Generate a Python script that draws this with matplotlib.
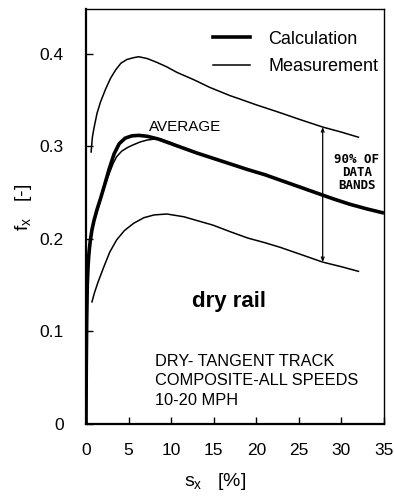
import matplotlib
matplotlib.use("Agg")
import matplotlib.pyplot as plt
from matplotlib.lines import Line2D

plt.rcParams['font.family'] = ['Liberation Sans', 'DejaVu Sans']
plt.rcParams['mathtext.fontset'] = 'custom'
plt.rcParams['mathtext.rm'] = 'Liberation Sans'
plt.rcParams['mathtext.it'] = 'Liberation Sans'

# Calculated friction coefficient curve
calc_s = [0, 0.03, 0.08, 0.15, 0.25, 0.35, 0.5, 0.7, 0.94, 1.3, 1.75, 2.2, 2.7,
          3.3, 3.9, 4.6, 5.4, 6.2, 7.2, 8.5, 10, 11.5, 13, 15, 17, 19, 21, 23,
          25, 27, 29, 31, 33, 35]
calc_f = [0, 0.06, 0.11, 0.15, 0.172, 0.185, 0.198, 0.21, 0.22, 0.232, 0.245,
          0.259, 0.275, 0.292, 0.303, 0.309, 0.3115, 0.312, 0.311, 0.308, 0.303,
          0.298, 0.293, 0.287, 0.281, 0.275, 0.2695, 0.263, 0.2565, 0.25,
          0.2435, 0.2375, 0.2325, 0.228]

# Measured average curve
avg_s = [0.15, 0.25, 0.35, 0.5, 0.7, 0.94, 1.3, 1.75, 2.2, 2.7, 3.2, 3.6, 4.2,
         4.9, 5.6, 6.4, 7.2, 8.0, 8.8, 10, 11.5, 13, 15, 17, 19, 21, 23, 25, 27,
         29, 31, 32]
avg_f = [0.14, 0.165, 0.18, 0.195, 0.207, 0.218, 0.23, 0.243, 0.257, 0.27,
         0.282, 0.289, 0.295, 0.299, 0.302, 0.305, 0.307, 0.308, 0.308, 0.304,
         0.298, 0.293, 0.287, 0.281, 0.275, 0.2695, 0.263, 0.2565, 0.25,
         0.2435, 0.2375, 0.235]

# Upper bound of the 90 % data band
upper_s = [0.6, 0.75, 0.94, 1.3, 1.7, 2.3, 2.9, 3.5, 4.1, 4.8, 5.6, 6.2, 7.2,
           8.3, 9.5, 10.7, 12.7, 14.5, 16.9, 18, 20, 22.8, 25, 27.8, 30, 32]
upper_f = [0.294, 0.31, 0.32, 0.336, 0.348, 0.362, 0.374, 0.383, 0.390, 0.394,
           0.396, 0.397, 0.395, 0.391, 0.386, 0.380, 0.372, 0.364, 0.355,
           0.3515, 0.345, 0.3365, 0.3295, 0.321, 0.3155, 0.310]

# Lower bound of the 90 % data band
lower_s = [0.7, 1.0, 1.4, 2.1, 2.8, 3.6, 4.5, 5.6, 6.8, 8.0, 9.5, 11.5, 13, 14.9,
           16.9, 19, 21, 22.8, 25, 27.8, 30, 32]
lower_f = [0.132, 0.142, 0.153, 0.17, 0.186, 0.199, 0.209, 0.217, 0.223, 0.226,
           0.227, 0.224, 0.220, 0.215, 0.208, 0.201, 0.196, 0.191, 0.184, 0.175,
           0.170, 0.165]

band_s = 27.8
band_top = 0.321
band_bottom = 0.175

x_ticks = [0, 5, 10, 15, 20, 25, 30, 35]
y_ticks = [0, 0.1, 0.2, 0.3, 0.4]
y_tick_labels = ['0', '0.1', '0.2', '0.3', '0.4']

fig = plt.figure(figsize=(3.94, 4.96), dpi=100)
ax = fig.add_axes([86 / 394, 72 / 496, 298 / 394, 415 / 496])

thin = 1.1
thick = 2.6
ax.plot(upper_s, upper_f, color='black', lw=thin)
ax.plot(lower_s, lower_f, color='black', lw=thin)
ax.plot(avg_s, avg_f, color='black', lw=thin)
ax.plot(calc_s, calc_f, color='black', lw=thick, solid_capstyle='butt')

ax.annotate('', xy=(band_s, band_top), xytext=(band_s, band_bottom),
            arrowprops=dict(arrowstyle='<->,head_length=0.25,head_width=0.1',
                            color='black', lw=0.9, shrinkA=0, shrinkB=0))
ax.text(31.8, 0.272, '90% OF\nDATA\nBANDS', ha='center', va='center',
        fontsize=9, fontweight='bold', family='DejaVu Sans Mono',
        linespacing=1.0)

ax.text(7.4, 0.321, 'AVERAGE', ha='left', va='center', fontsize=11)
ax.text(12.4, 0.132, 'dry rail', ha='left', va='center', fontsize=16,
        fontweight='bold')
ax.text(8.1, 0.0465, 'DRY- TANGENT TRACK\nCOMPOSITE-ALL SPEEDS\n10-20 MPH',
        ha='left', va='center', fontsize=11.8, linespacing=1.38)

ax.set_xlim(0, 35)
ax.set_ylim(0, 0.4486)
ax.set_xticks(x_ticks)
ax.set_yticks(y_ticks)
ax.set_yticklabels(y_tick_labels)
ax.tick_params(direction='in', length=5, width=1, labelsize=12.5,
               top=False, right=False)
ax.tick_params(axis='y', pad=16)
ax.tick_params(axis='x', pad=14)
for side in ['left', 'bottom']:
    ax.spines[side].set_linewidth(1.6)
for side in ['top', 'right']:
    ax.spines[side].set_linewidth(1.0)

handles = [Line2D([], [], color='black', lw=thick),
           Line2D([], [], color='black', lw=thin)]
ax.legend(handles, ['Calculation', 'Measurement'], loc='upper left',
          bbox_to_anchor=(0.426, 0.948), frameon=False, fontsize=13,
          handlelength=2.05, handletextpad=1.0, labelspacing=0.6,
          borderpad=0, borderaxespad=0)

fig.text(23 / 394, 1 - 207 / 496, r'$\mathrm{f_x}$   [-]', rotation=90,
         ha='center', va='center', fontsize=14)
fig.text(215 / 394, 1 - 481 / 496, r'$\mathrm{s_x}$   [%]', ha='center',
         va='center', fontsize=14)

fig.savefig('out.png', dpi=100)
